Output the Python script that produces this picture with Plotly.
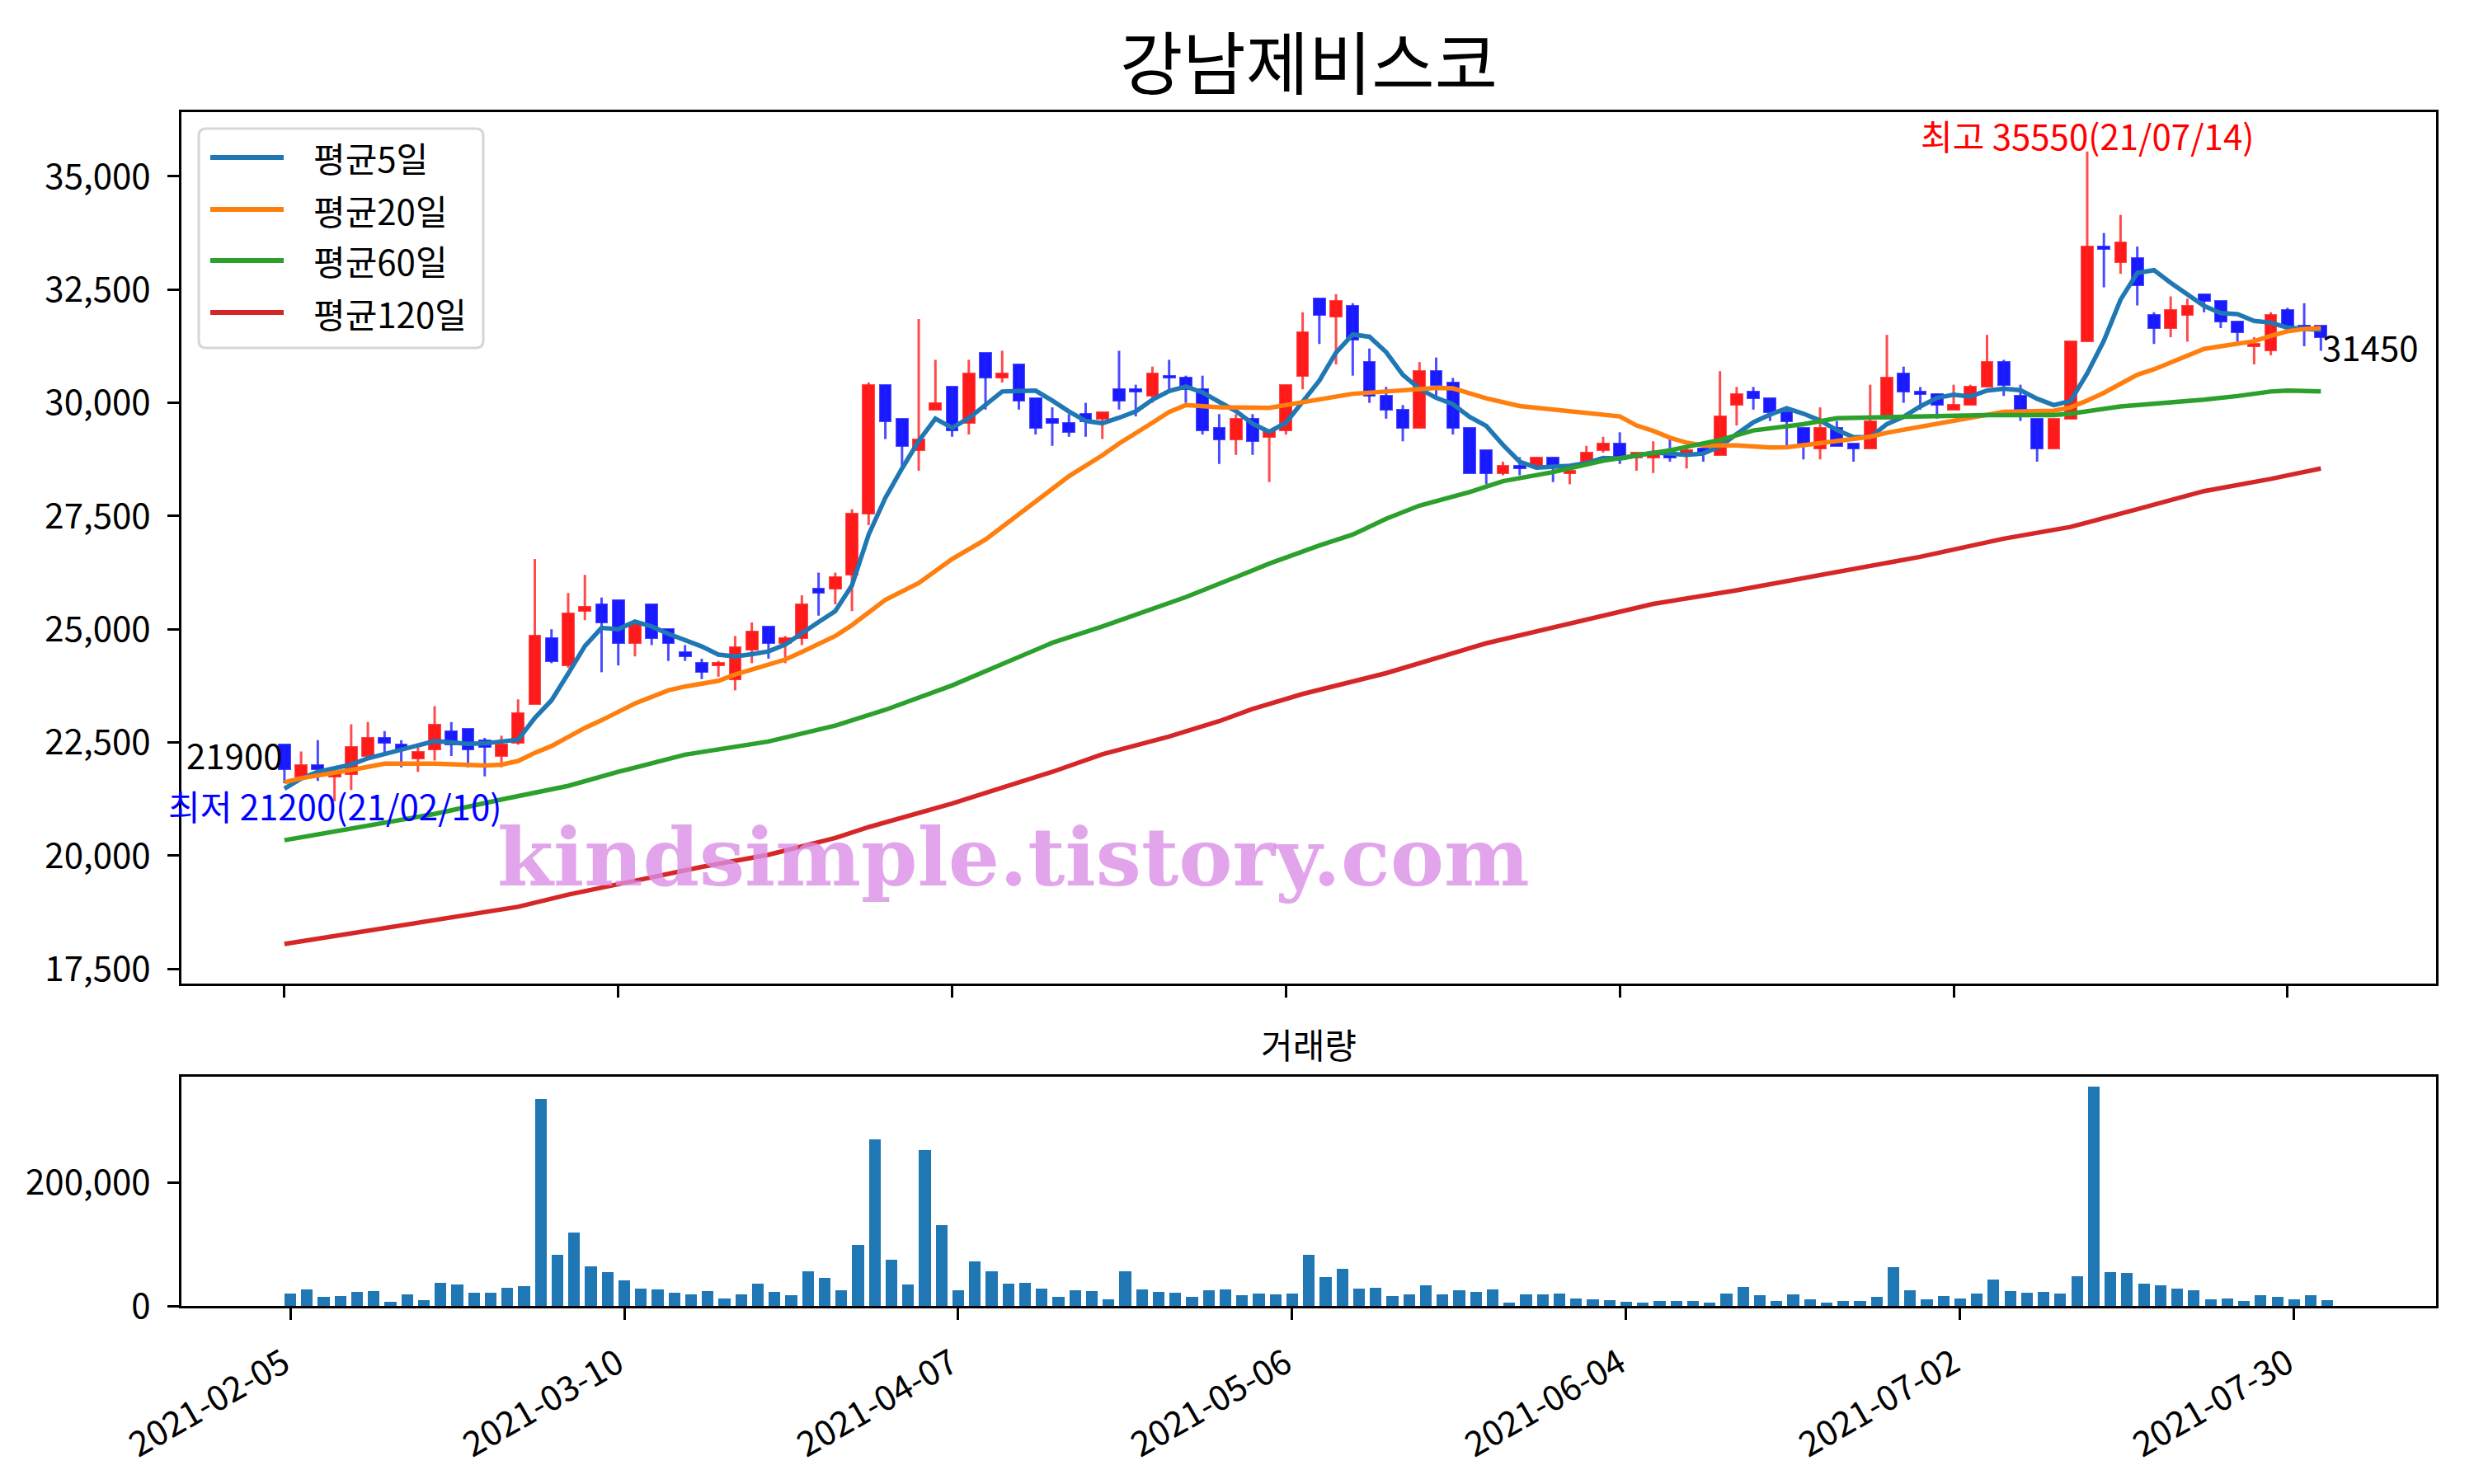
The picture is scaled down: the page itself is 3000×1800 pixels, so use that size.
import numpy as np
import pandas as pd
import plotly.graph_objects as go

# ---------------- data ----------------
holidays = ["2021-02-11", "2021-02-12", "2021-03-01", "2021-05-05", "2021-05-19"]
dates = pd.bdate_range("2021-02-05", "2021-08-03", freq="C", holidays=holidays)

open_ = [22450, 21750, 22000, 21750, 21800, 22200, 22600, 22450, 22150, 22350,
         22750, 22800, 22550, 22200, 22500, 23350, 24800, 24200, 25400, 25550,
         25650, 24700, 25550, 25000, 24500, 24250, 24200, 23900, 24550, 25050,
         24700, 24800, 25900, 25900, 26200, 27550, 30400, 29650, 28950, 29850,
         30350, 29550, 31100, 30550, 30850, 30100, 29650, 29550, 29750, 29650,
         30300, 30300, 30150, 30600, 30550, 30300, 29450, 29200, 29650, 29250,
         29400, 30600, 32300, 31900, 32150, 30900, 30150, 29850, 29450, 30700,
         30450, 29450, 28950, 28450, 28600, 28600, 28800, 28450, 28700, 28950,
         29100, 28800, 28800, 28900, 28850, 29000, 28850, 29950, 30250, 30100,
         29800, 29450, 29000, 29450, 29100, 29000, 29650, 30650, 30250, 30200,
         29850, 29950, 30350, 30900, 30150, 29650, 29000, 29650, 31350, 33450,
         33100, 33200, 31950, 31650, 31950, 32400, 32250, 31800, 31250, 31150,
         32050, 31700, 31700]
high = [22450, 22300, 22550, 21900, 22900, 22950, 22750, 22550, 22450, 23300,
        22950, 22800, 22600, 22650, 23450, 26550, 25000, 25800, 26200, 25700,
        25650, 25150, 25550, 25000, 24650, 24350, 24300, 24850, 25150, 25050,
        24850, 25750, 26250, 26250, 27650, 30450, 30400, 29650, 31850, 30950,
        30350, 30950, 31100, 31150, 30850, 30100, 29900, 29750, 30000, 29800,
        31150, 30400, 30800, 30950, 30600, 30600, 29750, 29750, 29750, 29400,
        30400, 32000, 32300, 32400, 32200, 31200, 30350, 29950, 30900, 31000,
        30550, 29450, 28950, 28700, 28800, 28800, 28800, 28650, 29050, 29250,
        29350, 28900, 29150, 29200, 29000, 29000, 30700, 30350, 30350, 30100,
        29800, 29450, 29900, 29600, 29100, 30400, 31500, 30800, 30350, 30200,
        30400, 30400, 31500, 30950, 30400, 29650, 29650, 31350, 35550, 33750,
        34150, 33450, 32000, 32350, 32300, 32400, 32250, 31800, 31450, 32000,
        32100, 32200, 31700]
low = [21600, 21700, 21650, 21200, 21450, 22150, 22250, 21950, 21850, 22100,
       22200, 21950, 21750, 21950, 22450, 23350, 24250, 24150, 25200, 24050,
       24200, 24400, 24650, 24300, 24300, 23900, 23950, 23650, 24250, 24350,
       24250, 24650, 25300, 25550, 25400, 27300, 29200, 28600, 28500, 29850,
       29250, 29300, 29850, 30450, 29850, 29300, 29050, 29250, 29250, 29200,
       29850, 29700, 30000, 30300, 30000, 29300, 28650, 28850, 28850, 28250,
       29300, 30300, 31300, 30850, 30600, 30000, 29650, 29150, 29450, 30150,
       29300, 28450, 28200, 28400, 28400, 28600, 28250, 28200, 28700, 28900,
       28650, 28500, 28450, 28700, 28550, 28700, 28850, 29500, 29850, 29600,
       29050, 28750, 28750, 29050, 28700, 29000, 29650, 30000, 29850, 29650,
       29850, 29950, 30350, 30150, 29600, 28700, 29000, 29650, 31350, 32550,
       32850, 32150, 31300, 31450, 31350, 32000, 31650, 31350, 30850, 31050,
       31700, 31250, 31150]
close = [21900, 22000, 21900, 21850, 22400, 22600, 22500, 22350, 22300, 22900,
         22450, 22350, 22400, 22450, 23150, 24850, 24300, 25350, 25500, 25150,
         24700, 25150, 24800, 24700, 24400, 24050, 24250, 24600, 24950, 24700,
         24800, 25550, 25800, 26150, 27550, 30400, 29600, 29050, 29200, 30000,
         29400, 30650, 30550, 30650, 30050, 29450, 29550, 29350, 29600, 29800,
         30050, 30250, 30650, 30550, 30300, 29400, 29200, 29650, 29150, 29400,
         30400, 31550, 31950, 32250, 31400, 30150, 29850, 29450, 30700, 30400,
         29450, 28450, 28450, 28600, 28550, 28800, 28600, 28500, 28900, 29100,
         28750, 28900, 28850, 28800, 28950, 28900, 29700, 30200, 30100, 29800,
         29600, 29100, 29450, 29050, 29000, 29600, 30550, 30250, 30200, 29950,
         29950, 30350, 30900, 30400, 29800, 29000, 29650, 31350, 33450, 33400,
         33550, 32600, 31650, 32050, 32150, 32250, 31800, 31550, 31300, 31950,
         31700, 31650, 31450]
volume = [19500, 26300, 14100, 15400, 22200, 23600, 7300, 18100, 10000, 37200,
          34500, 20900, 20900, 29000, 31700, 335100, 82100, 118800, 64400, 54900,
          41300, 27700, 26300, 20900, 18100, 23600, 12700, 18100, 35800, 22200,
          16800, 56200, 45400, 24900, 98400, 269800, 75300, 34500, 252100, 131100,
          24900, 72600, 56200, 35800, 37200, 27700, 14100, 24900, 23600, 11300,
          56200, 26300, 22200, 20900, 14100, 24900, 26300, 16800, 19500, 18100,
          19500, 82100, 46700, 60300, 27700, 29000, 15400, 18100, 33100, 18100,
          24900, 22200, 26300, 5900, 18100, 18100, 19500, 12700, 11300, 10000,
          7300, 5900, 8600, 8600, 8600, 5900, 19500, 30400, 16800, 8600,
          18100, 11300, 5900, 8600, 8600, 14100, 63000, 24900, 11300, 15400,
          12700, 19500, 42600, 23600, 20900, 22200, 19500, 48100, 355500, 54900,
          53500, 35800, 33100, 27700, 24900, 11300, 12700, 8600, 16800, 14100,
          11300, 16800, 10000]
# closes of the four sessions before the first day (for the 5-day average)
prev_close = [20900, 21150, 21450, 22000]

# moving averages (session index, value)
ma20_idx = [0, 1, 4, 6, 9, 12, 13, 14, 15, 16, 17, 18, 19, 21, 23, 24, 26, 27, 28, 29,
            30, 31, 33, 34, 36, 38, 40, 42, 44, 45, 47, 49, 50, 52, 53, 54, 56, 59, 60, 62,
            64, 66, 67, 69, 70, 71, 72, 74, 77, 79, 80, 81, 82, 83, 84, 85, 87, 89, 90, 92,
            95, 96, 98, 101, 103, 106, 107, 108, 109, 110, 111, 112, 113, 114, 115, 116, 117, 118, 119, 120,
            121, 122]
ma20_val = [21620, 21710, 21890, 22030, 22030, 21990, 22010, 22090, 22270, 22420, 22620, 22820, 22990, 23360, 23650, 23735, 23860, 24000, 24110, 24210,
            24330, 24500, 24850, 25090, 25650, 26020, 26550, 26980, 27530, 27820, 28380, 28840, 29100, 29560, 29800, 29950, 29900, 29890, 29950, 30070,
            30200, 30250, 30270, 30330, 30320, 30200, 30100, 29930, 29820, 29750, 29700, 29500, 29380, 29230, 29120, 29060, 29060, 29015, 29020, 29110,
            29250, 29340, 29470, 29650, 29800, 29825, 29900, 30050, 30220, 30420, 30620, 30740, 30890, 31040, 31190, 31250, 31300, 31360, 31480, 31580,
            31630, 31650]
ma60_idx = [0, 4, 9, 13, 17, 20, 24, 29, 31, 33, 36, 38, 40, 43, 46, 49, 52, 54, 57, 59,
            62, 64, 66, 68, 71, 73, 76, 79, 83, 86, 88, 91, 93, 96, 98, 102, 106, 107, 110, 113,
            115, 117, 119, 120, 122]
ma60_val = [20340, 20600, 20920, 21240, 21540, 21850, 22230, 22520, 22700, 22870, 23220, 23490, 23760, 24230, 24700, 25060, 25460, 25710, 26150, 26450,
            26850, 27090, 27440, 27730, 28030, 28270, 28470, 28720, 28950, 29180, 29390, 29530, 29660, 29690, 29710, 29730, 29730, 29760, 29920, 30000,
            30070, 30150, 30250, 30270, 30250]
ma120_idx = [0, 4, 9, 14, 17, 21, 25, 29, 33, 35, 40, 43, 46, 49, 53, 56, 58, 61, 66, 72,
             77, 82, 87, 93, 98, 103, 107, 111, 115, 119, 122]
ma120_val = [18050, 18290, 18575, 18870, 19140, 19450, 19750, 20020, 20390, 20630, 21150, 21500, 21850, 22240, 22630, 22970, 23240, 23570, 24030, 24690,
             25120, 25560, 25860, 26250, 26600, 27000, 27260, 27650, 28050, 28320, 28550]

ma_names = ["평균5일", "평균20일", "평균60일", "평균120일"]
ma_colors = ["#1f77b4", "#ff7f0e", "#2ca02c", "#d62728"]
tick_idx = [0, 20, 40, 60, 80, 100, 120]

# ---------------- derived ----------------
idx = np.arange(len(close))
o = np.array(open_); h = np.array(high); l = np.array(low); c = np.array(close)
inc = c >= o
dec = ~inc
ma5 = pd.Series(prev_close + close).rolling(5).mean().iloc[len(prev_close):].to_numpy()
tick_text = [dates[i].strftime("%Y-%m-%d") for i in tick_idx]

FONT = "Noto Sans CJK KR"
UP_FILL, UP_LINE = "rgba(255,0,0,0.9)", "rgba(255,30,30,0.8)"
DN_FILL, DN_LINE = "rgba(0,0,255,0.9)", "rgba(30,30,255,0.8)"

fig = go.Figure()

# wicks
for mask, col in ((inc, UP_LINE), (dec, DN_LINE)):
    xs, ys = [], []
    for i in idx[mask]:
        xs += [int(i), int(i), None]
        ys += [float(l[i]), float(h[i]), None]
    fig.add_trace(go.Scatter(x=xs, y=ys, mode="lines", line=dict(color=col, width=3),
                             showlegend=False, hoverinfo="skip", xaxis="x", yaxis="y"))

# bodies
for mask, fill, edge in ((inc, UP_FILL, UP_LINE), (dec, DN_FILL, DN_LINE)):
    base = np.minimum(o, c)[mask]
    hgt = np.abs(c - o)[mask]
    fig.add_trace(go.Bar(x=idx[mask], y=hgt, base=base, width=0.68,
                         marker=dict(color=fill, line=dict(color=edge, width=2)),
                         showlegend=False, hoverinfo="skip", xaxis="x", yaxis="y"))

# moving averages
ma_series = [(idx, ma5), (ma20_idx, ma20_val), (ma60_idx, ma60_val), (ma120_idx, ma120_val)]
for name, col, (xs, ys) in zip(ma_names, ma_colors, ma_series):
    fig.add_trace(go.Scatter(x=list(xs), y=list(ys), mode="lines", name=name,
                             line=dict(color=col, width=5.5), showlegend=False,
                             xaxis="x", yaxis="y"))

# volume
fig.add_trace(go.Bar(x=idx, y=volume, width=0.7, marker=dict(color="#1f77b4", line=dict(width=0)),
                     showlegend=False, xaxis="x2", yaxis="y2"))

# ---------------- legend box (matplotlib style) ----------------
PW, PH = 2734.0, 1448.0          # plot area size in px
def px(xp):  # px from plot-area left -> paper x
    return xp / PW
def py(yp):  # px from plot-area top -> paper y
    return 1 - yp / PH

bx0, bx1, by0, by1 = px(21), px(366), py(286), py(20)
rx, ry = px(9), 9 / PH
box_path = (f"M{bx0+rx},{by1} L{bx1-rx},{by1} Q{bx1},{by1} {bx1},{by1-ry} "
            f"L{bx1},{by0+ry} Q{bx1},{by0} {bx1-rx},{by0} L{bx0+rx},{by0} "
            f"Q{bx0},{by0} {bx0},{by0+ry} L{bx0},{by1-ry} Q{bx0},{by1} {bx0+rx},{by1} Z")
shapes = [dict(type="path", path=box_path, xref="paper", yref="paper",
               fillcolor="rgba(255,255,255,0.85)", line=dict(color="#d6d6d6", width=3), layer="above")]
ann = []
row_y = [55, 118, 180, 243]
for name, col, ry_ in zip(ma_names, ma_colors, row_y):
    shapes.append(dict(type="line", xref="paper", yref="paper", x0=px(35), x1=px(124),
                       y0=py(ry_), y1=py(ry_), line=dict(color=col, width=6), layer="above"))
    ann.append(dict(x=px(158), y=py(ry_), xref="paper", yref="paper", text=name,
                    font=dict(color="black", size=42, family=FONT), showarrow=False,
                    xanchor="left", yanchor="middle"))

# ---------------- annotations ----------------
imax = int(np.argmax(h)); imin = int(np.argmin(l))
ann += [
    dict(x=imax, y=float(h[imax]), xref="x", yref="y",
         text=f"최고 {h[imax]}({dates[imax].strftime('%y/%m/%d')})",
         font=dict(color="red", size=42, family=FONT), showarrow=False,
         xanchor="center", yanchor="bottom", yshift=-12),
    dict(x=imin, y=float(l[imin]), xref="x", yref="y",
         text=f"최저 {l[imin]}({dates[imin].strftime('%y/%m/%d')})",
         font=dict(color="blue", size=42, family=FONT), showarrow=False,
         xanchor="center", yanchor="middle", yshift=-5),
    dict(x=0, y=float(c[0]), xref="x", yref="y", text=str(c[0]),
         font=dict(color="black", size=42, family=FONT), showarrow=False,
         xanchor="right", yanchor="bottom", yshift=-14),
    dict(x=int(idx[-1]), y=float(c[-1]), xref="x", yref="y", text=str(c[-1]),
         font=dict(color="black", size=42, family=FONT), showarrow=False,
         xanchor="left", yanchor="top", yshift=22),
    dict(x=0.5, y=0.2203, xref="paper", yref="paper", text="거래량",
         font=dict(color="black", size=42, family=FONT), showarrow=False,
         xanchor="center", yanchor="middle"),
    dict(x=0.369, y=0.3757, xref="paper", yref="paper", text="kindsimple.tistory.com",
         font=dict(color="rgba(219,142,230,0.8)", size=98, family="DejaVu Serif", weight="bold"),
         showarrow=False, xanchor="center", yanchor="middle"),
]

axis_common = dict(showline=True, linecolor="black", linewidth=3, mirror=True,
                   ticks="outside", ticklen=14, tickwidth=3, tickcolor="black",
                   showgrid=False, zeroline=False, ticklabelstandoff=12,
                   tickfont=dict(size=42, family=FONT, color="black"))

# the page body adds an 8px offset, so the figure is 8px smaller on each axis
fig.update_layout(
    width=2992, height=1792,
    margin=dict(l=212, r=46, t=128, b=216, autoexpand=False),
    paper_bgcolor="white", plot_bgcolor="white",
    font=dict(family=FONT, size=42, color="black"),
    title=dict(text="강남제비스코", x=0.5, xref="paper", xanchor="center",
               y=1 - 71 / 1792, yref="container", yanchor="middle",
               font=dict(size=83, family=FONT, color="black")),
    barmode="overlay", bargap=0,
    showlegend=False,
    xaxis=dict(domain=[0, 1], anchor="y", range=[-6.17, 128.9], tickvals=tick_idx,
               showticklabels=False, **axis_common),
    yaxis=dict(domain=[0.27, 1], anchor="x", range=[17174, 36420], tick0=0, dtick=2500,
               tickformat=",", **axis_common),
    xaxis2=dict(domain=[0, 1], anchor="y2", range=[-6.52, 128.5], tickvals=tick_idx,
                ticktext=tick_text, tickangle=-30, ticklabelshift=-8, **axis_common),
    yaxis2=dict(domain=[0, 0.192], anchor="x2", range=[0, 371000], tick0=0, dtick=200000,
                tickformat=",", **axis_common),
    shapes=shapes,
    annotations=ann,
)

fig.write_html("out.html")
